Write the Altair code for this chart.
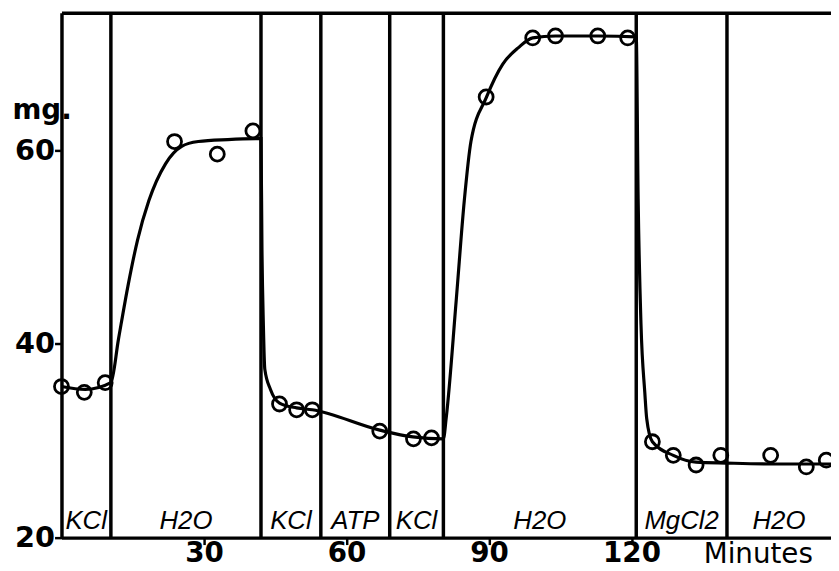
import altair as alt
import pandas as pd

# Phases (bathing solutions) and their boundaries, minutes
phase_names = ["KCl", "H2O", "KCl", "ATP", "KCl", "H2O", "MgCl2", "H2O"]
phase_start = [0.0, 10.4, 42.0, 54.6, 69.1, 80.4, 121.0, 140.1]
phase_end = [10.4, 42.0, 54.6, 69.1, 80.4, 121.0, 140.1, 162.0]

# Measured weights (open circles)
point_min = [0.0, 4.8, 9.2, 23.8, 32.8, 40.3, 45.9, 49.5, 52.8, 67.0, 74.1, 77.9,
             89.4, 99.2, 104.0, 112.9, 119.2, 124.4, 128.8, 133.6, 138.8, 149.3,
             156.8, 161.0]
point_mg = [35.6, 35.0, 36.0, 60.9, 59.6, 62.0, 33.8, 33.2, 33.2, 31.0, 30.2, 30.3,
            65.5, 71.6, 71.8, 71.8, 71.6, 29.9, 28.5, 27.5, 28.5, 28.5,
            27.3, 28.0]

# Hand-drawn smooth curve
curve_min = [0.0, 5.0, 10.4, 12.0, 14.0, 16.0, 18.4, 21.9, 25.3, 28.8, 35.0, 42.0,
             42.2, 42.5, 42.8, 44.0, 45.9, 49.5, 52.8, 67.0, 74.0, 80.4,
             81.0, 83.1, 84.8, 86.2, 89.4, 92.9, 96.2, 99.2, 104.0, 113.0, 121.0,
             121.4, 122.0, 122.8, 123.2, 124.4, 128.8, 133.6, 140.0, 150.0, 162.0]
curve_mg = [35.6, 35.3, 36.0, 40.5, 46.0, 50.7, 54.8, 58.6, 60.4, 60.9, 61.1, 61.2,
            50.0, 42.0, 37.4, 35.3, 33.9, 33.4, 33.2, 31.1, 30.4, 30.2,
            32.4, 44.5, 54.8, 60.9, 65.4, 68.9, 70.6, 71.6, 71.8, 71.8, 71.7,
            55.0, 42.0, 35.0, 32.3, 29.9, 28.5, 27.8, 27.7, 27.6, 27.6]

x_ticks = [30, 60, 90, 120]
y_ticks = [20, 40, 60]

W, H = 777, 530
INK = "black"

phases = pd.DataFrame({"name": phase_names, "start": phase_start, "end": phase_end})
bounds = phases.iloc[1:]
points = pd.DataFrame({"t": point_min, "mg": point_mg})
curve = pd.DataFrame({"t": curve_min, "mg": curve_mg})

xs = alt.Scale(domain=[0, 162], nice=False, zero=False)
ys = alt.Scale(domain=[20, 74.2], nice=False, zero=False)

x_axis = alt.Axis(
    values=x_ticks, orient="bottom", grid=False,
    domainColor=INK, domainWidth=3.5,
    tickColor=INK, tickWidth=2.5, tickSize=7,
    labelPadding=-5, labelFont="DejaVu Sans", labelFontSize=28,
    labelFontWeight="bold", labelColor=INK, labelFlush=False,
    title="Minutes", titleX=648, titleY=25, titleAlign="left",
    titleBaseline="alphabetic", titleFont="DejaVu Sans", titleFontSize=28,
    titleFontWeight="normal", titleColor=INK,
)
y_axis = alt.Axis(
    values=y_ticks, orient="left", grid=False,
    domainColor=INK, domainWidth=3.5,
    tickColor=INK, tickWidth=2.5, tickSize=7,
    labelPadding=0, labelFont="DejaVu Sans", labelFontSize=29,
    labelFontWeight="bold", labelColor=INK, labelFlush=False,
    title="mg.", titleAngle=0, titleX=-50, titleY=107, titleAlign="left",
    titleBaseline="alphabetic", titleFont="DejaVu Sans", titleFontSize=28,
    titleFontWeight="bold", titleColor=INK,
)
top_axis = alt.Axis(orient="top", labels=False, ticks=False, grid=False,
                    domainColor=INK, domainWidth=3.5, title=None)

curve_layer = alt.Chart(curve).mark_line(
    interpolate="monotone", color=INK, strokeWidth=3.2
).encode(
    x=alt.X("t:Q", scale=xs, axis=x_axis),
    y=alt.Y("mg:Q", scale=ys, axis=y_axis),
)

rules = alt.Chart(bounds).mark_rule(color=INK, strokeWidth=3.5).encode(
    x=alt.X("start:Q", scale=xs, axis=top_axis),
)

labels = alt.Chart(phases).transform_calculate(
    mid="(datum.start + datum.end) / 2"
).mark_text(
    font="Liberation Sans", fontSize=26, fontStyle="italic", color=INK,
    baseline="alphabetic", align="center"
).encode(
    x=alt.X("mid:Q", scale=xs, axis=None),
    y=alt.value(H - 9),
    text="name:N",
)

pts = alt.Chart(points).mark_point(
    shape="circle", filled=False, color=INK, strokeWidth=2.8, size=200, opacity=1
).encode(
    x=alt.X("t:Q", scale=xs, axis=None),
    y=alt.Y("mg:Q", scale=ys, axis=y_axis),
)

chart = alt.layer(curve_layer, rules, labels, pts).resolve_axis(
    x="independent"
).properties(
    width=W, height=H,
    autosize=alt.AutoSizeParams(type="none"),
    padding={"left": 54, "top": 2, "right": 0, "bottom": 40},
    background="white",
).configure_view(stroke=None)

chart.save("out.html", embed_options={"renderer": "svg", "actions": False})
